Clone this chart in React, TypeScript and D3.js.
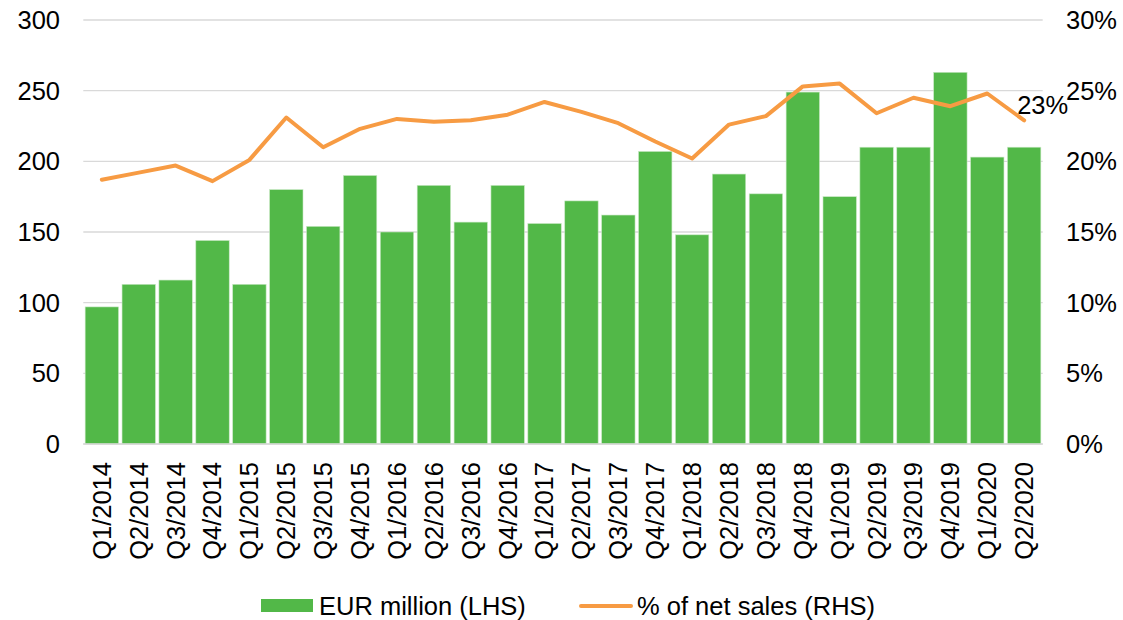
import React from "react";
import * as d3 from "d3";

const categories = [
  "Q1/2014","Q2/2014","Q3/2014","Q4/2014",
  "Q1/2015","Q2/2015","Q3/2015","Q4/2015",
  "Q1/2016","Q2/2016","Q3/2016","Q4/2016",
  "Q1/2017","Q2/2017","Q3/2017","Q4/2017",
  "Q1/2018","Q2/2018","Q3/2018","Q4/2018",
  "Q1/2019","Q2/2019","Q3/2019","Q4/2019",
  "Q1/2020","Q2/2020",
];
const eurMillion = [97,113,116,144,113,180,154,190,150,183,157,183,156,172,162,207,148,191,177,249,175,210,210,263,203,210];
const pctNetSales = [18.7,19.2,19.7,18.6,20.1,23.1,21.0,22.3,23.0,22.8,22.9,23.3,24.2,23.5,22.7,21.4,20.2,22.6,23.2,25.3,25.5,23.4,24.5,23.9,24.8,22.9];
const leftTicks = [0,50,100,150,200,250,300];
const rightTicks = [0,5,10,15,20,25,30];
const lastLabel = "23%";
const seriesNames = ["EUR million (LHS)", "% of net sales (RHS)"];

const W = 1123, H = 620;
const M = { left: 83.3, right: 1042.7, top: 20, bottom: 444 };
const GREEN = "#52B848";
const ORANGE = "#F79B43";
const FONT = "'Liberation Sans', Arial, sans-serif";
const FS = 25.5;

export default function App() {
  const x = d3.scaleBand<string>().domain(categories).range([M.left, M.right]).paddingInner(0.095).paddingOuter(0.05);
  const yL = d3.scaleLinear().domain([0, 300]).range([M.bottom, M.top]);
  const yR = d3.scaleLinear().domain([0, 30]).range([M.bottom, M.top]);
  const cx = (c: string) => (x(c) as number) + x.bandwidth() / 2;
  const line = d3.line<number>().x((_, i) => cx(categories[i])).y((d) => yR(d));
  const lastI = categories.length - 1;

  return (
    <svg width={W} height={H} style={{ position: "absolute", left: 0, top: 0, background: "#fff" }} fontFamily={FONT}>
      {leftTicks.map((t) => (
        <line key={"g" + t} x1={M.left} x2={M.right} y1={yL(t)} y2={yL(t)} stroke="#d9d9d9" strokeWidth={1.3} />
      ))}
      {eurMillion.map((v, i) => (
        <rect key={"b" + i} x={x(categories[i])} y={yL(v)} width={x.bandwidth()} height={yL(0) - yL(v)} fill={GREEN} stroke="#c8e8c4" strokeWidth={0.6} />
      ))}
      <line x1={M.left} x2={M.right} y1={yL(0)} y2={yL(0)} stroke="#d9d9d9" strokeWidth={1.3} />
      <path d={line(pctNetSales) || ""} fill="none" stroke={ORANGE} strokeWidth={4} strokeLinejoin="round" strokeLinecap="round" />
      <text x={cx(categories[lastI]) - 7} y={yR(pctNetSales[lastI]) - 6} fontSize={FS} textAnchor="start" fill="#000">{lastLabel}</text>
      {leftTicks.map((t) => (
        <text key={"l" + t} x={60} y={yL(t)} dy="0.35em" fontSize={FS} textAnchor="end" fill="#000">{t}</text>
      ))}
      {rightTicks.map((t) => (
        <text key={"r" + t} x={1066} y={yR(t)} dy="0.35em" fontSize={FS} textAnchor="start" fill="#000">{t + "%"}</text>
      ))}
      {categories.map((c) => (
        <text key={"x" + c} transform={`translate(${cx(c)},${462}) rotate(-90)`} dy="0.35em" fontSize={FS} textAnchor="end" fill="#000">{c}</text>
      ))}
      <rect x={261} y={599} width={52} height={13} fill={GREEN} />
      <text x={319} y={615} fontSize={FS} fill="#000">{seriesNames[0]}</text>
      <line x1={581} x2={631} y1={606} y2={606} stroke={ORANGE} strokeWidth={4} strokeLinecap="round" />
      <text x={637} y={615} fontSize={FS} fill="#000">{seriesNames[1]}</text>
    </svg>
  );
}
